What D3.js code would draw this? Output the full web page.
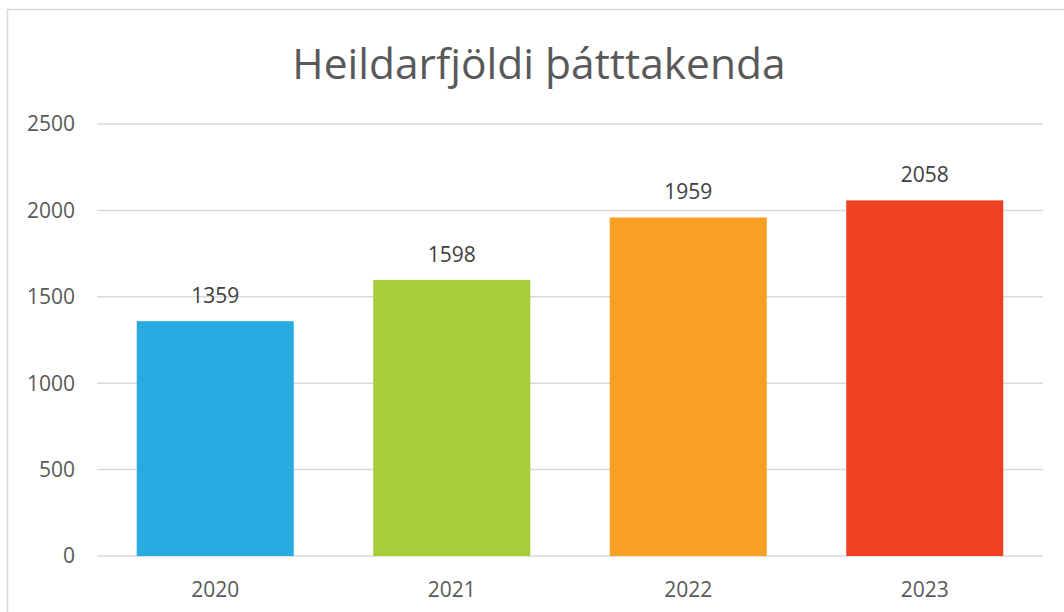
<!DOCTYPE html>
<html>
<head>
<meta charset="utf-8">
<script src="https://cdn.jsdelivr.net/npm/d3@7"></script>
<style>
body { margin: 0; background: #fff; }
svg text { font-family: "Open Sans", sans-serif; }
</style>
</head>
<body>
<svg id="chart" width="1064" height="612"></svg>
<script>
// bar chart - total participants per year
var years = ["2020", "2021", "2022", "2023"];
var participants = [1359, 1598, 1959, 2058];
var barColors = ["#29ABE2", "#A6CE39", "#F7A021", "#F04023"];
var yTicks = [0, 500, 1000, 1500, 2000, 2500];
var chartTitle = "Heildarfjöldi þátttakenda";

var svg = d3.select("#chart");

// outer frame
svg.append("rect")
.attr("x", 7.5)
.attr("y", 9.5)
.attr("width", 1070)
.attr("height", 620)
.style("fill", "none")
.style("stroke", "#D9D9D9")
.style("stroke-width", 1.5);

svg.append("text")
.text(chartTitle)
.attr("x", 539)
.attr("y", 79)
.attr("text-anchor", "middle")
.attr("font-size", 42.5)
.style("fill", "#595959");

var x = d3.scaleBand()
.domain(years)
.range([97, 1043])
.paddingInner(0.336)
.paddingOuter(0.168);

var y = d3.scaleLinear()
.domain([0, 2500])
.range([556, 124]);

// gridlines
svg.selectAll(".grid")
.data(yTicks)
.enter()
.append("line")
.attr("x1", 97)
.attr("x2", 1043)
.attr("y1", function (d) { return y(d); })
.attr("y2", function (d) { return y(d); })
.style("stroke", "#D9D9D9")
.style("stroke-width", 1.5);

// y labels
svg.selectAll(".ylab")
.data(yTicks)
.enter()
.append("text")
.text(function (d) { return d; })
.attr("x", 75)
.attr("y", function (d) { return y(d); })
.attr("dy", "0.35em")
.attr("text-anchor", "end")
.attr("font-size", 21)
.style("fill", "#595959");

// bars
svg.selectAll(".bar")
.data(participants)
.enter()
.append("rect")
.attr("x", function (d, i) { return x(years[i]); })
.attr("width", x.bandwidth())
.attr("y", function (d) { return y(d); })
.attr("height", function (d) { return y(0) - y(d); })
.style("fill", function (d, i) { return barColors[i]; });

// value labels
svg.selectAll(".val")
.data(participants)
.enter()
.append("text")
.text(function (d) { return d; })
.attr("x", function (d, i) { return x(years[i]) + x.bandwidth() / 2; })
.attr("y", function (d) { return y(d) - 18; })
.attr("text-anchor", "middle")
.attr("font-size", 21)
.style("fill", "#404040");

// x labels
svg.selectAll(".xlab")
.data(years)
.enter()
.append("text")
.text(function (d) { return d; })
.attr("x", function (d) { return x(d) + x.bandwidth() / 2; })
.attr("y", 597)
.attr("text-anchor", "middle")
.attr("font-size", 21)
.style("fill", "#595959");
</script>
</body>
</html>
